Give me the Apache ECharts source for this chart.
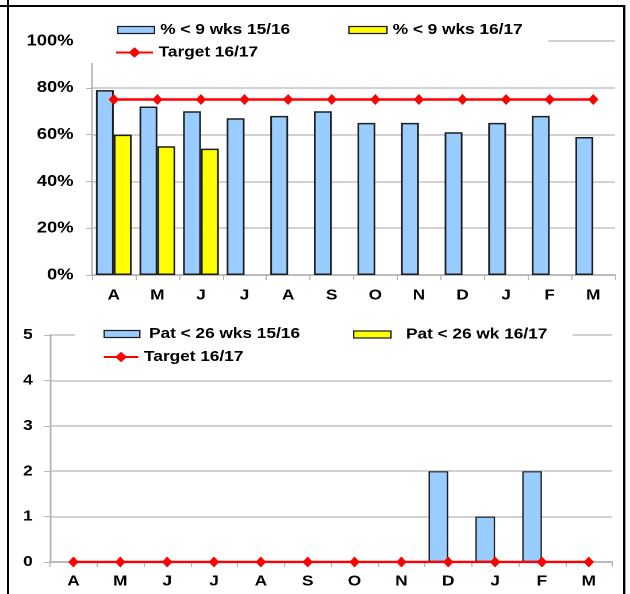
<!DOCTYPE html>
<html>
<head>
<meta charset="utf-8">
<script src="https://cdn.jsdelivr.net/npm/echarts@6/dist/echarts.min.js"></script>
<style>
  html, body { margin: 0; padding: 0; background: #fff; overflow: hidden; }
  /* the sheet is laid out narrow and widened horizontally, like the stretched report page */
  #chart { width: 548px; height: 594px; transform: scaleX(1.14964); transform-origin: 0 0; }
</style>
</head>
<body>
<div id="chart"></div>
<script>
// Month initials, April to March
const months = ['A', 'M', 'J', 'J', 'A', 'S', 'O', 'N', 'D', 'J', 'F', 'M'];

// Upper panel: % of patients seen in under 9 weeks
const pctUnder9Wks1516 = [79, 72, 70, 67, 68, 70, 65, 65, 61, 65, 68, 59];
const pctUnder9Wks1617 = [60, 55, 54, null, null, null, null, null, null, null, null, null];
const target9Wks1617 = [75, 75, 75, 75, 75, 75, 75, 75, 75, 75, 75, 75];
const pctTicks = [0, 20, 40, 60, 80, 100];

// Lower panel: patients waiting over 26 weeks
const patUnder26Wks1516 = [0, 0, 0, 0, 0, 0, 0, 0, 2, 1, 2, 0];
const patUnder26Wk1617 = [0, 0, 0, 0, 0, 0, 0, 0, 0, 0, 0, 0];
const target26Wks1617 = [0, 0, 0, 0, 0, 0, 0, 0, 0, 0, 0, 0];
const countTicks = [0, 1, 2, 3, 4, 5];

const FONT = "'Liberation Sans', Arial, sans-serif";
const AXIS_GREY = '#b4b4b4';
const GRID_GREY = '#d2d2d2';
const BLUE = '#99ccff';
const YELLOW = '#ffff00';
const RED = '#ff0000';
const EDGE = '#1e1e1e';

const labelText = (size) => ({ color: '#000', fontFamily: FONT, fontWeight: 'bold', fontSize: size });

// zero-height bars are left without an outline so nothing is stroked along the axis
const barData = (arr) => arr.map(v => v === 0 ? { value: 0, itemStyle: { borderWidth: 0 } } : v);

function catAxis(gridIndex, margin) {
  return {
    type: 'category', gridIndex, data: months,
    axisLine: { lineStyle: { color: AXIS_GREY, width: 1.5 } },
    axisTick: { show: true, length: 5, lineStyle: { color: AXIS_GREY, width: 1 } },
    axisLabel: Object.assign({ margin, interval: 0 }, labelText(15))
  };
}
function valAxis(gridIndex, ticks, formatter, margin, size) {
  return {
    type: 'value', gridIndex,
    min: ticks[0], max: ticks[ticks.length - 1], interval: ticks[1] - ticks[0],
    axisLine: { show: true, lineStyle: { color: AXIS_GREY, width: 1.5 } },
    axisTick: { show: true, length: 5, lineStyle: { color: AXIS_GREY, width: 1 } },
    splitLine: { lineStyle: { color: GRID_GREY, width: 2 } },
    axisLabel: Object.assign({ margin, formatter }, labelText(size))
  };
}
function legendAt(name, left, top, w, h, extra) {
  return Object.assign({
    data: [name], left, top, padding: 0, itemWidth: w, itemHeight: h,
    selectedMode: false, textStyle: labelText(15)
  }, extra || {});
}
const rectIcon = { icon: 'rect', itemStyle: { borderColor: EDGE, borderWidth: 1.2 } };

const chart = echarts.init(document.getElementById('chart'), null, { devicePixelRatio: 2 });
chart.setOption({
  animation: false,
  backgroundColor: '#fff',
  grid: [
    { left: 80, width: 455, top: 41, height: 234 },
    { left: 43.5, width: 489, top: 335, height: 227 }
  ],
  xAxis: [catAxis(0, 13), catAxis(1, 12)],
  yAxis: [
    valAxis(0, pctTicks, '{value}%', 16, 16),
    valAxis(1, countTicks, '{value}', 15, 15)
  ],
  legend: [
    legendAt('% < 9 wks 15/16', 101.8, 22.5, 32, 7, rectIcon),
    legendAt('% < 9 wks 16/17', 303, 22.5, 33, 7, rectIcon),
    legendAt('Target 16/17', 100, 45, 32, 13),
    legendAt('Pat < 26 wks 15/16', 90, 326.5, 31, 7,
      Object.assign({}, rectIcon, { textStyle: Object.assign(labelText(15), { padding: [0, 0, 0, 3] }) })),
    legendAt('Pat < 26 wk 16/17', 307, 327, 32.5, 7,
      Object.assign({}, rectIcon, { textStyle: Object.assign(labelText(15), { padding: [0, 0, 0, 8] }) })),
    legendAt('Target 16/17', 89.3, 349.5, 30, 13)
  ],
  graphic: [
    // white legend panels sitting over the top of each plot
    { type: 'rect', z: 3, shape: { x: 72, y: 14, width: 405, height: 49 }, style: { fill: '#fff' } },
    { type: 'rect', z: 3, shape: { x: 65, y: 320, width: 433, height: 48 }, style: { fill: '#fff' } },
    // page frame
    { type: 'line', z: 10, shape: { x1: 0, y1: 6, x2: 544, y2: 6 }, style: { stroke: '#000', lineWidth: 2 } },
    { type: 'line', z: 10, shape: { x1: 7, y1: 0, x2: 7, y2: 594 }, style: { stroke: '#000', lineWidth: 2 } },
    { type: 'line', z: 10, shape: { x1: 543, y1: 5, x2: 543, y2: 594 }, style: { stroke: '#000', lineWidth: 2 } }
  ],
  series: [
    {
      type: 'bar', name: '% < 9 wks 15/16', xAxisIndex: 0, yAxisIndex: 0,
      data: pctUnder9Wks1516, barGap: '0%', barCategoryGap: '18%',
      itemStyle: { color: BLUE, borderColor: EDGE, borderWidth: 1.5 }
    },
    {
      type: 'bar', name: '% < 9 wks 16/17', xAxisIndex: 0, yAxisIndex: 0,
      data: pctUnder9Wks1617, barGap: '0%', barCategoryGap: '18%',
      itemStyle: { color: YELLOW, borderColor: EDGE, borderWidth: 1.5 }
    },
    {
      type: 'line', name: 'Target 16/17', xAxisIndex: 0, yAxisIndex: 0, z: 5,
      data: target9Wks1617, symbol: 'diamond', symbolSize: [9, 11],
      lineStyle: { color: RED, width: 2.5 }, itemStyle: { color: RED }
    },
    {
      type: 'bar', name: 'Pat < 26 wks 15/16', xAxisIndex: 1, yAxisIndex: 1,
      data: barData(patUnder26Wks1516), barGap: '0%', barCategoryGap: '16%',
      itemStyle: { color: BLUE, borderColor: EDGE, borderWidth: 1.2 }
    },
    {
      type: 'bar', name: 'Pat < 26 wk 16/17', xAxisIndex: 1, yAxisIndex: 1,
      data: barData(patUnder26Wk1617), barGap: '0%', barCategoryGap: '16%',
      itemStyle: { color: YELLOW, borderColor: EDGE, borderWidth: 1.2 }
    },
    {
      type: 'line', name: 'Target 16/17', xAxisIndex: 1, yAxisIndex: 1, z: 5,
      data: target26Wks1617, symbol: 'diamond', symbolSize: [9, 11],
      lineStyle: { color: RED, width: 2.5 }, itemStyle: { color: RED }
    }
  ]
});
</script>
</body>
</html>
